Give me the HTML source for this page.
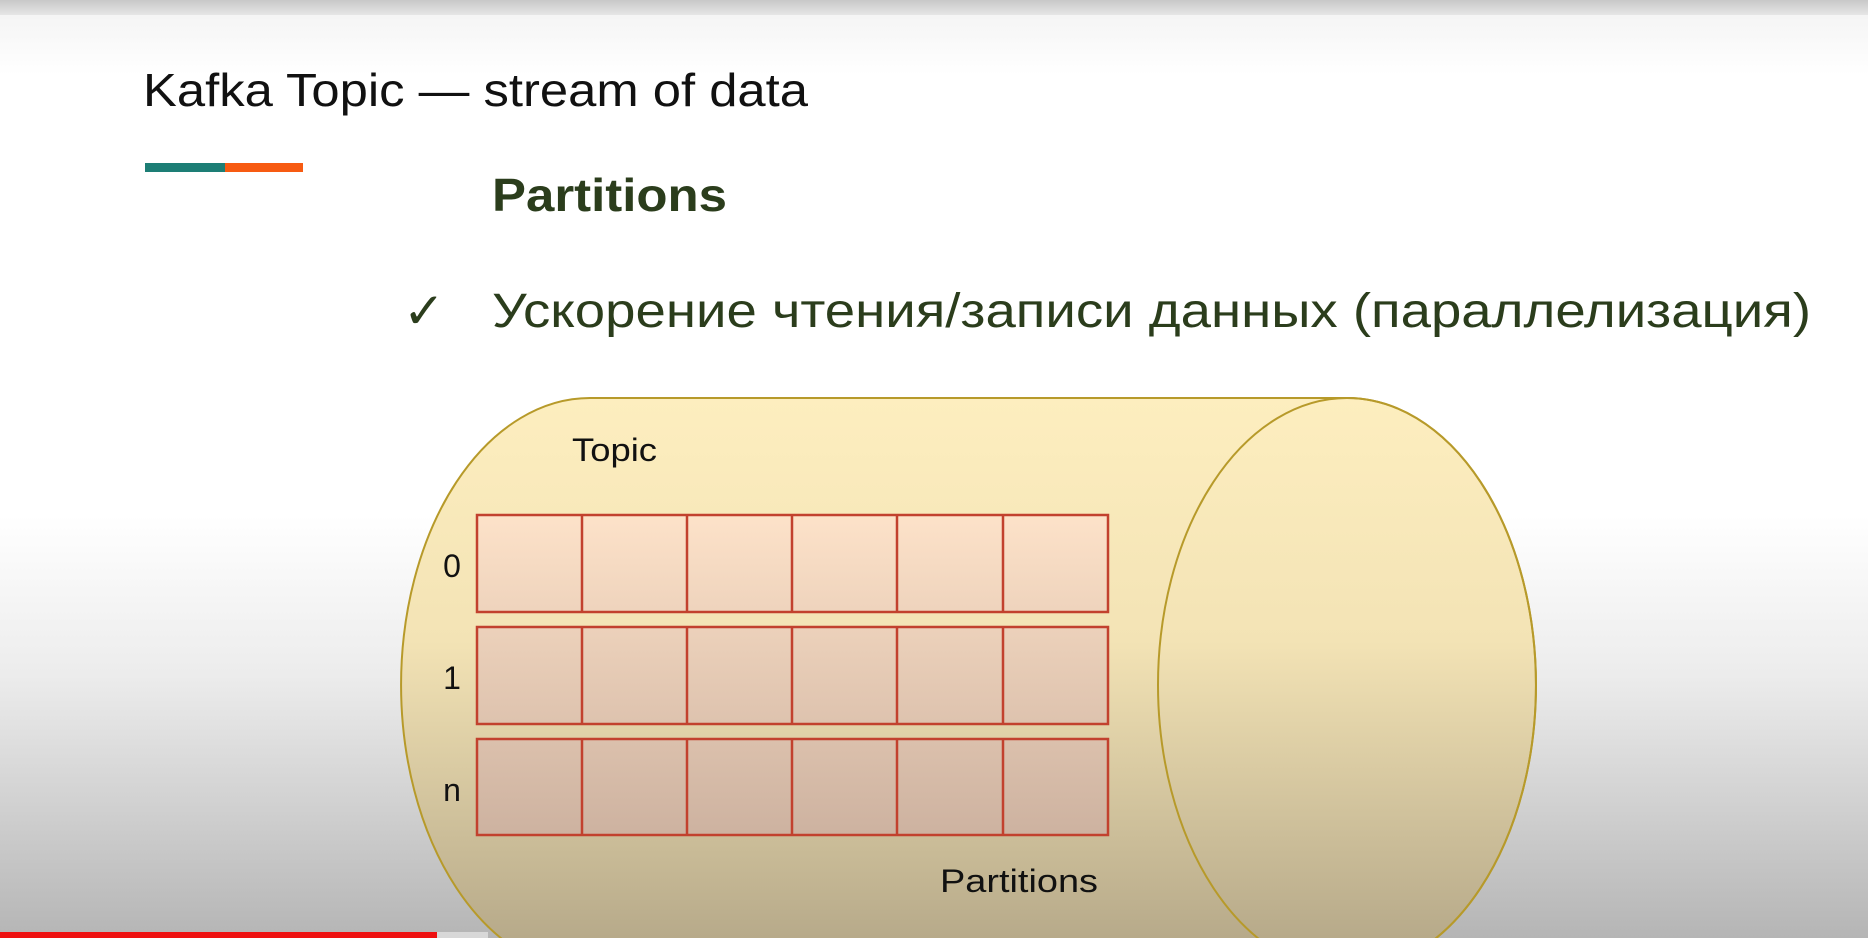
<!DOCTYPE html>
<html><head><meta charset="utf-8"><style>
html,body{margin:0;padding:0;width:1868px;height:938px;overflow:hidden;}
</style></head><body>
<svg width="1868" height="938" viewBox="0 0 1868 938" xmlns="http://www.w3.org/2000/svg">
<defs>
<linearGradient id="bg" x1="0" y1="0" x2="0" y2="1">
<stop offset="0" stop-color="#f2f2f2"/><stop offset="0.08" stop-color="#ffffff"/><stop offset="0.55" stop-color="#ffffff"/><stop offset="0.72" stop-color="#ececec"/><stop offset="1" stop-color="#b5b5b5"/></linearGradient>
<linearGradient id="cyl" x1="0" y1="398" x2="0" y2="938" gradientUnits="userSpaceOnUse">
<stop offset="0" stop-color="#fdeebf"/><stop offset="0.45" stop-color="#f3e3b5"/><stop offset="1" stop-color="#b7aa8a"/></linearGradient>
<linearGradient id="cell" x1="0" y1="515" x2="0" y2="835" gradientUnits="userSpaceOnUse">
<stop offset="0" stop-color="#fde2c9"/><stop offset="1" stop-color="#cdb2a0"/></linearGradient>
<linearGradient id="top" x1="0" y1="0" x2="0" y2="1"><stop offset="0" stop-color="#c8c8c8"/><stop offset="1" stop-color="#e6e6e6"/></linearGradient>
</defs>
<rect width="1868" height="938" fill="url(#bg)"/>
<rect width="1868" height="15" fill="url(#top)"/>
<text x="143" y="106" font-family="Liberation Sans, sans-serif" font-size="46" fill="#111" textLength="665" lengthAdjust="spacingAndGlyphs">Kafka Topic — stream of data</text>
<rect x="145" y="163" width="80" height="9" fill="#1d7e75"/>
<rect x="225" y="163" width="78" height="9" fill="#f75b12"/>
<text x="492" y="211" font-family="Liberation Sans, sans-serif" font-weight="bold" font-size="46" fill="#2b3d1c" textLength="235" lengthAdjust="spacingAndGlyphs">Partitions</text>
<text x="403" y="328" font-family="DejaVu Sans, sans-serif" font-size="50" fill="#2b3d1c">✓</text>
<text x="492" y="327" font-family="Liberation Sans, sans-serif" font-size="48" fill="#2b3d1c" textLength="1319" lengthAdjust="spacingAndGlyphs">Ускорение чтения/записи данных (параллелизация)</text>
<path d="M590 398 L1347 398 A189 287 0 0 1 1347 972 L590 972 A189 287 0 0 1 590 398 Z" fill="url(#cyl)" stroke="#b79a2a" stroke-width="2"/>
<ellipse cx="1347" cy="685" rx="189" ry="287" fill="none" stroke="#b79a2a" stroke-width="2"/>
<g fill="url(#cell)" stroke="#c2412e" stroke-width="2.5">
<rect x="477" y="515" width="631" height="97"/>
<rect x="477" y="627" width="631" height="97"/>
<rect x="477" y="739" width="631" height="96"/>
</g>
<g stroke="#c2412e" stroke-width="2.5">
<path d="M582 515V612M687 515V612M792 515V612M897 515V612M1003 515V612"/>
<path d="M582 627V724M687 627V724M792 627V724M897 627V724M1003 627V724"/>
<path d="M582 739V835M687 739V835M792 739V835M897 739V835M1003 739V835"/>
</g>
<g font-family="Liberation Sans, sans-serif" font-size="32" fill="#111">
<text x="572" y="461" textLength="85" lengthAdjust="spacingAndGlyphs">Topic</text>
<text x="452" y="577" text-anchor="middle">0</text>
<text x="452" y="689" text-anchor="middle">1</text>
<text x="452" y="801" text-anchor="middle">n</text>
<text x="940" y="892" textLength="158" lengthAdjust="spacingAndGlyphs">Partitions</text>
</g>
<rect x="0" y="932" width="488" height="6" fill="#d8d8d8"/>
<rect x="0" y="932" width="437" height="6" fill="#ee1010"/>
</svg>
</body></html>
